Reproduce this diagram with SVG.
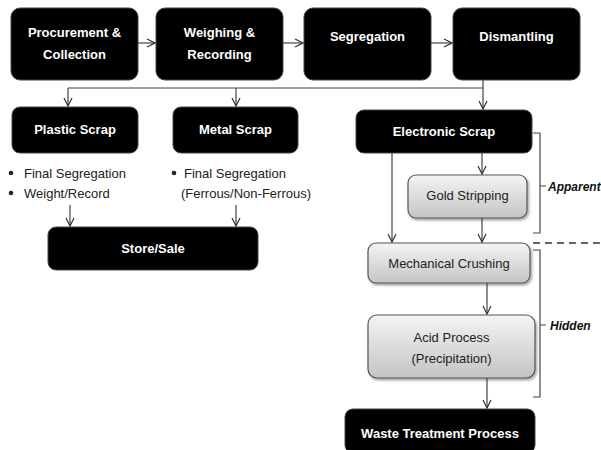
<svg xmlns="http://www.w3.org/2000/svg" width="601" height="450" viewBox="0 0 601 450">
<defs>
<linearGradient id="g" x1="0" y1="0" x2="0" y2="1">
<stop offset="0" stop-color="#f4f4f4"/>
<stop offset="1" stop-color="#c4c4c4"/>
</linearGradient>
<marker id="a" markerWidth="10" markerHeight="10" refX="9" refY="5" orient="auto" markerUnits="userSpaceOnUse">
<path d="M1,1 L9,5 L1,9" fill="none" stroke="#333" stroke-width="1.2"/>
</marker>
<filter id="sh" x="-10%" y="-10%" width="130%" height="140%">
<feDropShadow dx="1.5" dy="2" stdDeviation="1.2" flood-color="#000" flood-opacity="0.35"/>
</filter>
</defs>
<style>
.blk{fill:#000;stroke:#444;stroke-width:1}
.gry{fill:url(#g);stroke:#555;stroke-width:1.2;filter:url(#sh)}
.wt{font-family:"Liberation Sans",Arial,sans-serif;font-weight:bold;font-size:13px;fill:#fff;text-anchor:middle}
.dt{font-family:"Liberation Sans",Arial,sans-serif;font-size:13px;fill:#222;text-anchor:middle}
.bt{font-family:"Liberation Sans",Arial,sans-serif;font-size:13px;fill:#222}
.lb{font-family:"Liberation Sans",Arial,sans-serif;font-size:12px;font-weight:bold;font-style:italic;fill:#111}
.c{fill:none;stroke:#444;stroke-width:1.2}
.ca{fill:none;stroke:#444;stroke-width:1.2;marker-end:url(#a)}
.dot{fill:#222}
</style>
<rect width="601" height="450" fill="#fff"/>
<g id="procurement"><rect class="blk" x="11" y="8" width="127" height="72" rx="9"/><text class="wt" x="74.5" y="37">Procurement &amp;</text><text class="wt" x="74.5" y="59">Collection</text></g>
<g id="weighing"><rect class="blk" x="156" y="8" width="127" height="72" rx="9"/><text class="wt" x="219.5" y="37">Weighing &amp;</text><text class="wt" x="219.5" y="59">Recording</text></g>
<g id="segregation"><rect class="blk" x="304" y="8" width="127" height="72" rx="9"/><text class="wt" x="367.5" y="41">Segregation</text></g>
<g id="dismantling"><rect class="blk" x="453" y="8" width="127" height="72" rx="9"/><text class="wt" x="516.5" y="41">Dismantling</text></g>
<g id="plastic"><rect class="blk" x="12" y="107" width="126" height="46" rx="8"/><text class="wt" x="75" y="134">Plastic Scrap</text></g>
<g id="metal"><rect class="blk" x="173" y="107" width="125" height="46" rx="8"/><text class="wt" x="235.5" y="134">Metal Scrap</text></g>
<g id="electronic"><rect class="blk" x="356" y="110" width="176" height="43" rx="8"/><text class="wt" x="444" y="136">Electronic Scrap</text></g>
<g id="plastic-notes"><circle class="dot" cx="11" cy="173" r="2.3"/><text class="bt" x="24" y="178">Final Segregation</text><circle class="dot" cx="11" cy="193" r="2.3"/><text class="bt" x="24" y="198">Weight/Record</text></g>
<g id="metal-notes"><circle class="dot" cx="174" cy="173" r="2.3"/><text class="bt" x="184" y="178">Final Segregation</text><text class="bt" x="181" y="198">(Ferrous/Non-Ferrous)</text></g>
<g id="store"><rect class="blk" x="48" y="227" width="210" height="43" rx="8"/><text class="wt" x="153" y="253">Store/Sale</text></g>
<g id="gold"><rect class="gry" x="408" y="175" width="119" height="43" rx="8"/><text class="dt" x="467.5" y="200">Gold Stripping</text></g>
<g id="mechanical"><rect class="gry" x="368" y="243" width="162" height="40" rx="8"/><text class="dt" x="449" y="268">Mechanical Crushing</text></g>
<g id="acid"><rect class="gry" x="368" y="315" width="167" height="63" rx="9"/><text class="dt" x="451.5" y="342">Acid Process</text><text class="dt" x="451.5" y="363">(Precipitation)</text></g>
<g id="waste"><rect class="blk" x="345" y="409" width="190" height="44" rx="8"/><text class="wt" x="440" y="438">Waste Treatment Process</text></g>
<g id="connectors">
<line class="ca" x1="138" y1="43" x2="155" y2="43"/>
<line class="ca" x1="283" y1="43" x2="303" y2="43"/>
<line class="ca" x1="431" y1="43" x2="452" y2="43"/>
<polyline class="c" points="68,88 483,88"/>
<line class="ca" x1="483" y1="80" x2="483" y2="109"/>
<line class="ca" x1="68" y1="88" x2="68" y2="106"/>
<line class="ca" x1="236" y1="88" x2="236" y2="106"/>
<line class="ca" x1="70" y1="205" x2="70" y2="226"/>
<line class="ca" x1="236" y1="205" x2="236" y2="226"/>
<line class="ca" x1="392" y1="153" x2="392" y2="242"/>
<line class="ca" x1="482" y1="153" x2="482" y2="174"/>
<line class="ca" x1="482" y1="218" x2="482" y2="242"/>
<line class="ca" x1="487" y1="283" x2="487" y2="314"/>
<line class="ca" x1="487" y1="378" x2="487" y2="408"/>
</g>
<g id="apparent">
<path class="c" d="M533,133 L540,133 L540,233 L533,233 M540,186 L546,186"/>
<text class="lb" x="548" y="191">Apparent</text>
</g>
<line x1="533" y1="243" x2="601" y2="243" stroke="#333" stroke-width="1.5" stroke-dasharray="7,5"/>
<g id="hidden">
<path class="c" d="M533,250 L540,250 L540,397 L533,397 M540,325 L546,325"/>
<text class="lb" x="550" y="330">Hidden</text>
</g>
</svg>
